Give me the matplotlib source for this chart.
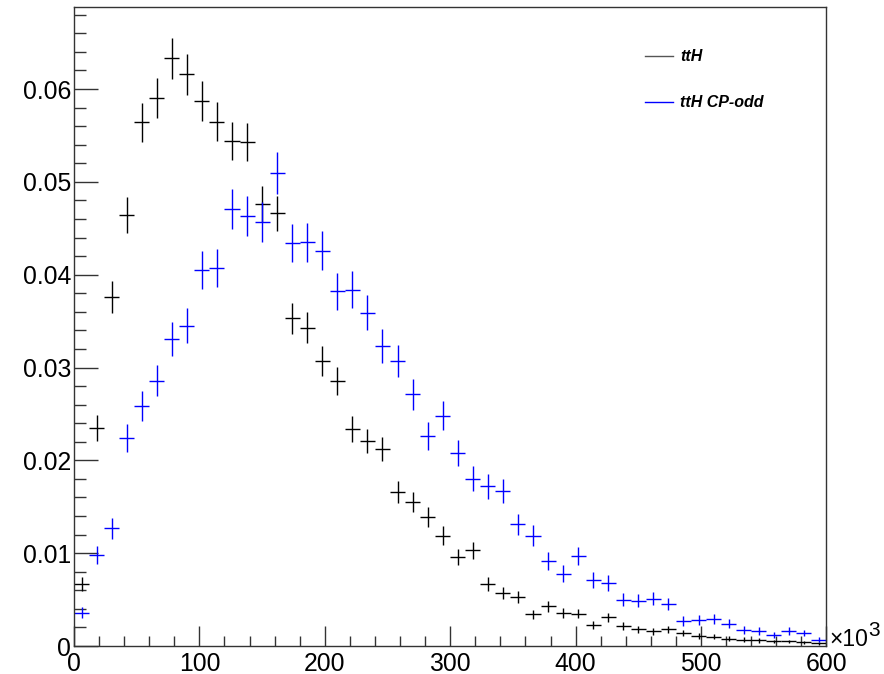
import numpy as np
import matplotlib
matplotlib.use('Agg')
from matplotlib import pyplot as plt
from matplotlib.ticker import MultipleLocator, FixedLocator
from matplotlib.lines import Line2D

plt.rcParams['font.family'] = ['Liberation Sans', 'DejaVu Sans']

# 50 bins from 0 to 600 (x10^3)
bin_lo, bin_hi, n_bins = 0, 600, 50
bin_centers = np.linspace(bin_lo, bin_hi, n_bins + 1)[:-1] + (bin_hi - bin_lo) / n_bins / 2

tth = [0.0067, 0.0235, 0.0376, 0.0464, 0.0564, 0.0590, 0.0633, 0.0616, 0.0587, 0.0565,
       0.0544, 0.0543, 0.0476, 0.0466, 0.0353, 0.0343, 0.0307, 0.0285, 0.0234, 0.0221,
       0.0212, 0.0166, 0.0155, 0.0139, 0.0119, 0.0096, 0.0103, 0.0067, 0.0057, 0.0053,
       0.0034, 0.0043, 0.0036, 0.0035, 0.0023, 0.0031, 0.0022, 0.0018, 0.0016, 0.0018,
       0.0014, 0.0011, 0.0010, 0.0008, 0.0007, 0.0006, 0.0005, 0.0005, 0.0004, 0.0003]
tth_err = [0.00073, 0.00137, 0.00173, 0.00193, 0.00212, 0.00217, 0.00225, 0.00222, 0.00217, 0.00213,
           0.00209, 0.00208, 0.00195, 0.00193, 0.00168, 0.00166, 0.00157, 0.00151, 0.00137, 0.00133,
           0.00130, 0.00115, 0.00111, 0.00105, 0.00098, 0.00088, 0.00091, 0.00073, 0.00068, 0.00065,
           0.00052, 0.00059, 0.00054, 0.00053, 0.00043, 0.00050, 0.00042, 0.00038, 0.00036, 0.00038,
           0.00033, 0.00030, 0.00028, 0.00025, 0.00024, 0.00022, 0.00020, 0.00020, 0.00018, 0.00015]

tth_cpodd = [0.0036, 0.0098, 0.0127, 0.0224, 0.0259, 0.0286, 0.0331, 0.0345, 0.0405, 0.0407,
             0.0471, 0.0463, 0.0457, 0.0510, 0.0434, 0.0435, 0.0426, 0.0382, 0.0384, 0.0359,
             0.0323, 0.0307, 0.0271, 0.0226, 0.0248, 0.0208, 0.0180, 0.0172, 0.0167, 0.0131,
             0.0119, 0.0092, 0.0078, 0.0097, 0.0071, 0.0068, 0.0050, 0.0049, 0.0051, 0.0045,
             0.0027, 0.0028, 0.0029, 0.0024, 0.0017, 0.0016, 0.0012, 0.0016, 0.0014, 0.0007]
tth_cpodd_err = [0.00060, 0.00099, 0.00113, 0.00150, 0.00161, 0.00169, 0.00182, 0.00186, 0.00201, 0.00202,
                 0.00217, 0.00215, 0.00214, 0.00226, 0.00208, 0.00209, 0.00206, 0.00195, 0.00196, 0.00189,
                 0.00180, 0.00175, 0.00165, 0.00150, 0.00157, 0.00144, 0.00134, 0.00131, 0.00129, 0.00114,
                 0.00109, 0.00096, 0.00088, 0.00098, 0.00084, 0.00082, 0.00071, 0.00070, 0.00071, 0.00067,
                 0.00052, 0.00053, 0.00054, 0.00049, 0.00041, 0.00040, 0.00035, 0.00040, 0.00037, 0.00026]

labels = ['ttH', 'ttH CP-odd']
colors = ['black', '#0000ff']


def MakePlot():
    fig = plt.figure(figsize=(8.84, 6.74), dpi=100)
    axe = fig.add_axes([0.0837, 0.0415, 0.8512, 0.9476])
    half = (bin_hi - bin_lo) / n_bins / 2
    for y, e, c in [(tth, tth_err, colors[0]), (tth_cpodd, tth_cpodd_err, colors[1])]:
        axe.errorbar(bin_centers, y, xerr=half, yerr=e, fmt='none',
                     ecolor=c, elinewidth=1.0, capsize=0)

    axe.set_xlim(bin_lo, bin_hi)
    axe.set_ylim(0, 0.0688)

    axe.xaxis.set_major_locator(MultipleLocator(100))
    axe.xaxis.set_minor_locator(MultipleLocator(20))
    axe.yaxis.set_major_locator(FixedLocator([0, 0.01, 0.02, 0.03, 0.04, 0.05, 0.06]))
    axe.yaxis.set_minor_locator(MultipleLocator(0.002))
    axe.set_yticklabels(['0', '0.01', '0.02', '0.03', '0.04', '0.05', '0.06'])

    axe.tick_params(axis='both', which='both', direction='in', top=False, right=False,
                    labelsize=17.8, width=1.0, color='#333333')
    axe.tick_params(axis='x', which='major', length=14.4, pad=4.5)
    axe.tick_params(axis='x', which='minor', length=7.2)
    axe.tick_params(axis='y', which='major', length=17.3, pad=2)
    axe.tick_params(axis='y', which='minor', length=8.6)
    for sp in axe.spines.values():
        sp.set_color('#333333')
        sp.set_linewidth(1.0)

    # axis exponent, drawn ROOT style: "x10" with a raised 3
    axe.text(1.004, 0.0, '\u00d710', transform=axe.transAxes,
             ha='left', va='baseline', fontsize=16.5)
    axe.text(1.056, 0.0155, '3', transform=axe.transAxes,
             ha='left', va='baseline', fontsize=15)

    handles = [Line2D([], [], color='#555555', lw=1.0),
               Line2D([], [], color=colors[1], lw=1.0)]
    axe.legend(handles, labels, loc='upper left', bbox_to_anchor=(0.748, 0.947),
               frameon=False, handlelength=1.75, handletextpad=0.45,
               labelspacing=1.95, borderpad=0,
               prop={'size': 11.5, 'style': 'italic', 'weight': 'bold'})

    plt.savefig('out.png', dpi=100)


if __name__ == '__main__':
    MakePlot()
